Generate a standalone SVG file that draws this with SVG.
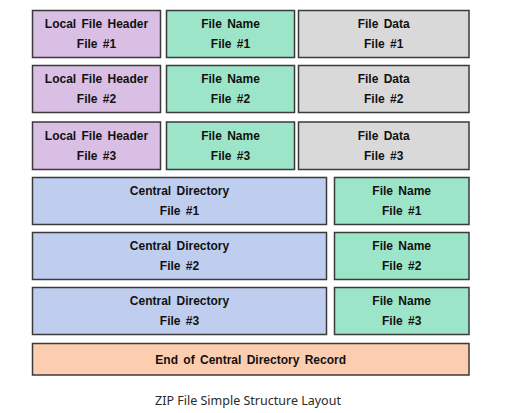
<svg xmlns="http://www.w3.org/2000/svg" width="505" height="413" viewBox="0 0 505 413">
<style>
rect{stroke:#3a3a3a;stroke-width:1.5}
.lfh{fill:#d9bfe3}.fn{fill:#9de5c8}.fd{fill:#d9d9d9}.cd{fill:#bfcdee}.end{fill:#fdcdb0}
text{font-family:"Liberation Sans",Arial,sans-serif;font-weight:bold;font-size:12px;fill:#111;text-anchor:middle;word-spacing:2px}
.cap{font-family:"Noto Sans","Open Sans",sans-serif;font-weight:normal;font-size:12.5px;fill:#2a2a2a;word-spacing:0}
</style>
<rect width="505" height="413" fill="#fff" style="stroke:none"/>
<g id="lfh1"><rect class="lfh" x="32.5" y="10.5" width="128" height="47"/><text x="96.5" y="27.5">Local File Header</text><text x="96.5" y="47.5">File #1</text></g>
<g id="fn1"><rect class="fn" x="166.5" y="10.5" width="128" height="47"/><text x="230.5" y="27.5">File Name</text><text x="230.5" y="47.5">File #1</text></g>
<g id="fd1"><rect class="fd" x="298.5" y="10.5" width="170.5" height="47"/><text x="383.7" y="27.5">File Data</text><text x="383.7" y="47.5">File #1</text></g>
<g id="lfh2"><rect class="lfh" x="32.5" y="65.5" width="128" height="47"/><text x="96.5" y="82.5">Local File Header</text><text x="96.5" y="102.5">File #2</text></g>
<g id="fn2"><rect class="fn" x="166.5" y="65.5" width="128" height="47"/><text x="230.5" y="82.5">File Name</text><text x="230.5" y="102.5">File #2</text></g>
<g id="fd2"><rect class="fd" x="298.5" y="65.5" width="170.5" height="47"/><text x="383.7" y="82.5">File Data</text><text x="383.7" y="102.5">File #2</text></g>
<g id="lfh3"><rect class="lfh" x="32.5" y="122" width="128" height="47.5"/><text x="96.5" y="139.5">Local File Header</text><text x="96.5" y="159.5">File #3</text></g>
<g id="fn3"><rect class="fn" x="166.5" y="122" width="128" height="47.5"/><text x="230.5" y="139.5">File Name</text><text x="230.5" y="159.5">File #3</text></g>
<g id="fd3"><rect class="fd" x="298.5" y="122" width="170.5" height="47.5"/><text x="383.7" y="139.5">File Data</text><text x="383.7" y="159.5">File #3</text></g>
<g id="cd1"><rect class="cd" x="32.5" y="177.5" width="294" height="47"/><text x="179.5" y="194.5">Central Directory</text><text x="179.5" y="214.5">File #1</text></g>
<g id="cfn1"><rect class="fn" x="334.5" y="177.5" width="134.5" height="47"/><text x="401.7" y="194.5">File Name</text><text x="401.7" y="214.5">File #1</text></g>
<g id="cd2"><rect class="cd" x="32.5" y="232.5" width="294" height="47"/><text x="179.5" y="249.5">Central Directory</text><text x="179.5" y="269.5">File #2</text></g>
<g id="cfn2"><rect class="fn" x="334.5" y="232.5" width="134.5" height="47"/><text x="401.7" y="249.5">File Name</text><text x="401.7" y="269.5">File #2</text></g>
<g id="cd3"><rect class="cd" x="32.5" y="287.5" width="294" height="47"/><text x="179.5" y="304.5">Central Directory</text><text x="179.5" y="324.5">File #3</text></g>
<g id="cfn3"><rect class="fn" x="334.5" y="287.5" width="134.5" height="47"/><text x="401.7" y="304.5">File Name</text><text x="401.7" y="324.5">File #3</text></g>
<g id="eocd"><rect class="end" x="32.5" y="343.5" width="436.5" height="31.5"/><text x="250.7" y="363.5">End of Central Directory Record</text></g>
<g id="connectors"></g>
<text class="cap" x="248" y="405">ZIP File Simple Structure Layout</text>
</svg>
